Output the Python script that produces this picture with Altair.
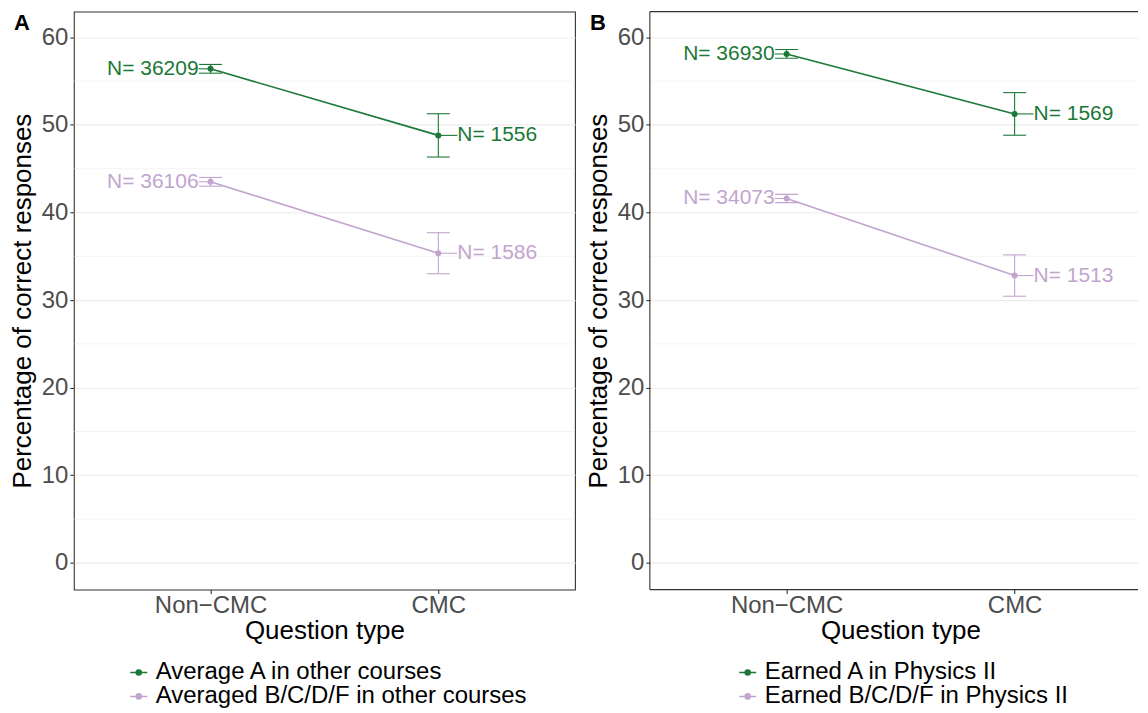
import altair as alt
import pandas as pd

categories = ["Non\u2212CMC", "CMC"]

groups_a = ["Average A in other courses", "Averaged B/C/D/F in other courses"]
mean_a_high = [56.4, 48.8]
ci_a_high = [0.5, 2.47]
n_a_high = [36209, 1556]
mean_a_low = [43.5, 35.35]
ci_a_low = [0.5, 2.34]
n_a_low = [36106, 1586]

groups_b = ["Earned A in Physics II", "Earned B/C/D/F in Physics II"]
mean_b_high = [58.1, 51.25]
ci_b_high = [0.5, 2.43]
n_b_high = [36930, 1569]
mean_b_low = [41.6, 32.8]
ci_b_low = [0.47, 2.36]
n_b_low = [34073, 1513]

panel_labels = ["A", "B"]
y_ticks = [0, 10, 20, 30, 40, 50, 60]
y_minor = [5, 15, 25, 35, 45, 55]
colors = ["#1B7837", "#C2A5CF"]

FONT = "Liberation Sans"
FRAME = "#333333"
LEG_PATH = ("M-1,0H1 "
            "M-0.3,0a0.3,0.3 0 1,0 0.6,0a0.3,0.3 0 1,0 -0.6,0 "
            "M-0.2,0a0.2,0.2 0 1,0 0.4,0a0.2,0.2 0 1,0 -0.4,0 "
            "M-0.1,0a0.1,0.1 0 1,0 0.2,0a0.1,0.1 0 1,0 -0.2,0")
PLOT_H = 579


def make_df(groups, means, cis, ns):
    rows = []
    for g, m, c, n in zip(groups, means, cis, ns):
        for cat, mv, cv, nv in zip(categories, m, c, n):
            rows.append({"group": g, "type": cat, "mean": mv,
                         "lo": mv - cv, "hi": mv + cv, "label": f"N= {nv}"})
    return pd.DataFrame(rows)


def panel(groups, means, cis, ns, plabel, leg_x, leg_y, width, pad, align, open_right):
    df = make_df(groups, means, cis, ns)
    base = alt.Chart(df)
    x = alt.X("type:N", sort=categories,
              scale=alt.Scale(type="point", domain=categories, padding=pad, align=align),
              axis=alt.Axis(title="Question type", labelAngle=0, labelPadding=0,
                            titlePadding=0, titleX=251))
    yscale = alt.Scale(domain=[-3.05, 62.93], nice=False, zero=False)
    yaxis = alt.Axis(values=y_ticks, title="Percentage of correct responses",
                     titlePadding=6)
    leg = alt.Legend(title=None, orient="none", legendX=leg_x, legendY=leg_y,
                     symbolType=LEG_PATH, symbolSize=289,
                     symbolStrokeWidth=1.5, labelFontSize=24,
                     labelColor="black", labelFont=FONT, labelLimit=600,
                     labelOffset=5, rowPadding=0, clipHeight=22, padding=0,
                     direction="vertical")
    col = alt.Color("group:N", scale=alt.Scale(domain=groups, range=colors), legend=leg)

    def Y(f):
        return alt.Y(f, scale=yscale, axis=yaxis)

    minor = alt.Chart(pd.DataFrame({"v": y_minor})).mark_rule(
        color="#EBEBEB", strokeWidth=0.55).encode(y=Y("v:Q"))
    line = base.mark_line(strokeWidth=1.6).encode(x=x, y=Y("mean:Q"), color=col)
    ebar = base.mark_rule(strokeWidth=1.1).encode(x=x, y=Y("lo:Q"), y2="hi:Q", color=col)
    cap_lo = base.mark_tick(orient="horizontal", size=23, thickness=1.1, opacity=1).encode(
        x=x, y=Y("lo:Q"), color=col)
    cap_hi = base.mark_tick(orient="horizontal", size=23, thickness=1.1, opacity=1).encode(
        x=x, y=Y("hi:Q"), color=col)
    pts = base.mark_point(filled=True, size=36, opacity=1).encode(
        x=x, y=Y("mean:Q"), color=col)
    left = base.transform_filter(alt.datum.type == categories[0])
    right = base.transform_filter(alt.datum.type == categories[1])
    dash_l = left.mark_tick(orient="horizontal", size=12, thickness=1.1, xOffset=-6, opacity=1).encode(
        x=x, y=Y("mean:Q"), color=col)
    dash_r = right.mark_tick(orient="horizontal", size=19, thickness=1.1, xOffset=9.5, opacity=1).encode(
        x=x, y=Y("mean:Q"), color=col)
    txt_l = left.mark_text(align="right", baseline="middle", dx=-12, fontSize=21, font=FONT).encode(
        x=x, y=Y("mean:Q"), text="label:N", color=col)
    txt_r = right.mark_text(align="left", baseline="middle", dx=19, fontSize=21, font=FONT).encode(
        x=x, y=Y("mean:Q"), text="label:N", color=col)
    plab = alt.Chart(pd.DataFrame({"p": [plabel]})).mark_text(
        align="left", baseline="top", fontSize=22, fontWeight="bold", font=FONT, color="black").encode(
        x=alt.value(-60), y=alt.value(1), text="p:N")

    layers = [minor, line, ebar, cap_lo, cap_hi, pts, dash_l, dash_r, txt_l, txt_r, plab]
    props = dict(width=width, height=PLOT_H)
    if open_right:
        one = pd.DataFrame({"k": [0]})
        top = alt.Chart(one).mark_rule(color=FRAME, strokeWidth=1.1).encode(y=alt.value(0))
        bot = alt.Chart(one).mark_rule(color=FRAME, strokeWidth=1.1).encode(y=alt.value(PLOT_H))
        lft = alt.Chart(one).mark_rule(color=FRAME, strokeWidth=1.1).encode(x=alt.value(0))
        layers += [top, bot, lft]
        props["view"] = alt.ViewBackground(stroke="transparent")
    return alt.layer(*layers).properties(**props)


pa = panel(groups_a, [mean_a_high, mean_a_low], [ci_a_high, ci_a_low],
           [n_a_high, n_a_low], panel_labels[0], 53, 651, 502, 0.6, 0.5, False)
pb = panel(groups_b, [mean_b_high, mean_b_low], [ci_b_high, ci_b_low],
           [n_b_high, n_b_low], panel_labels[1], 86, 651, 489, 0.5705, 0.5257, True)

chart = alt.hconcat(pa, pb, spacing=8).resolve_scale(color="independent").configure_view(
    stroke=FRAME, strokeWidth=1.1
).configure_axis(
    labelFont=FONT, titleFont=FONT, labelFontSize=24, titleFontSize=26,
    labelColor="#4D4D4D", titleColor="black", titleFontWeight="normal",
    tickColor=FRAME, tickSize=4, tickWidth=1.1, domain=False,
    gridColor="#EBEBEB", gridWidth=1.1, labelPadding=2
).properties(padding={"left": 0, "top": 1, "right": 0, "bottom": 0})

chart.save("out.html", embed_options={"renderer": "svg", "actions": False})
